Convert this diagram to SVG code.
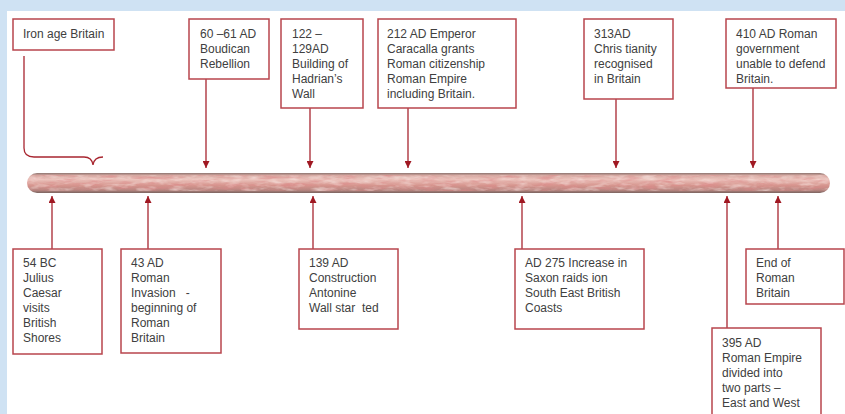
<svg xmlns="http://www.w3.org/2000/svg" width="845" height="414" viewBox="0 0 845 414">
<defs>
<style>
.box{fill:#fff;stroke:#b8454d;stroke-width:1.5}
.t{font-family:"Liberation Sans",Arial,sans-serif;font-size:12px;fill:#404040;white-space:pre}
.c{fill:none;stroke:#a82630;stroke-width:1.3}
</style>
<marker id="ah" viewBox="0 0 8 8" refX="8" refY="4" markerWidth="7" markerHeight="7" markerUnits="userSpaceOnUse" orient="auto">
<path d="M0 0L8 4L0 8z" fill="#a01822"/>
</marker>
<linearGradient id="bar" x1="0" y1="0" x2="0" y2="1">
<stop offset="0" stop-color="#8c7470"/>
<stop offset="0.12" stop-color="#d6a8a1"/>
<stop offset="0.32" stop-color="#ebc3bc"/>
<stop offset="0.62" stop-color="#d6958e"/>
<stop offset="0.86" stop-color="#b88580"/>
<stop offset="1" stop-color="#7a6460"/>
</linearGradient>
<filter id="texR" x="0" y="0" width="1" height="1">
<feTurbulence type="fractalNoise" baseFrequency="0.05 0.3" numOctaves="3" seed="4"/>
<feColorMatrix type="matrix" values="0 0 0 0 0.72  0 0 0 0 0.25  0 0 0 0 0.25  0 0 0 2.2 -1.0"/>
<feComposite in2="SourceGraphic" operator="in"/>
</filter>
<filter id="texL" x="0" y="0" width="1" height="1">
<feTurbulence type="fractalNoise" baseFrequency="0.07 0.25" numOctaves="3" seed="11"/>
<feColorMatrix type="matrix" values="0 0 0 0 0.97  0 0 0 0 0.85  0 0 0 0 0.82  0 0 0 2.2 -1.0"/>
<feComposite in2="SourceGraphic" operator="in"/>
</filter>
</defs>
<rect width="845" height="414" fill="#cfe2f3"/>
<rect x="7" y="11" width="838" height="403" fill="#fff"/>
<g id="timeline">
<rect x="27" y="173" width="803" height="20" rx="10" fill="url(#bar)"/>
<rect x="27" y="175" width="803" height="16" rx="8" fill="#fff" filter="url(#texR)" opacity="0.75"/>
<rect x="27" y="175" width="803" height="16" rx="8" fill="#fff" filter="url(#texL)" opacity="0.6"/>
</g>
<g id="connectors">
<path class="c" d="M24 56V148Q24 157 34 157H84Q92 157 93 165Q94 157 103 157"/>
<line class="c" x1="206" y1="79" x2="206" y2="168" marker-end="url(#ah)"/>
<line class="c" x1="310" y1="108" x2="310" y2="168" marker-end="url(#ah)"/>
<line class="c" x1="408" y1="108" x2="408" y2="168" marker-end="url(#ah)"/>
<line class="c" x1="616" y1="99" x2="616" y2="168" marker-end="url(#ah)"/>
<line class="c" x1="753" y1="88" x2="753" y2="168" marker-end="url(#ah)"/>
<line class="c" x1="52" y1="249" x2="52" y2="196" marker-end="url(#ah)"/>
<line class="c" x1="148" y1="249" x2="148" y2="196" marker-end="url(#ah)"/>
<line class="c" x1="313" y1="249" x2="313" y2="196" marker-end="url(#ah)"/>
<line class="c" x1="522" y1="249" x2="522" y2="196" marker-end="url(#ah)"/>
<line class="c" x1="778" y1="249" x2="778" y2="196" marker-end="url(#ah)"/>
<line class="c" x1="727" y1="328" x2="727" y2="196" marker-end="url(#ah)"/>
</g>
<g id="iron-age">
<rect class="box" x="13" y="19" width="101" height="31"/>
<text class="t" x="23" y="38">Iron age Britain</text>
</g>
<g id="boudican">
<rect class="box" x="189" y="19" width="80" height="60"/>
<text class="t"><tspan x="200" y="38">60 –61 AD</tspan><tspan x="200" y="53">Boudican</tspan><tspan x="200" y="68">Rebellion</tspan></text>
</g>
<g id="hadrian">
<rect class="box" x="281" y="19" width="82" height="89"/>
<text class="t"><tspan x="292" y="38">122 –</tspan><tspan x="292" y="53">129AD</tspan><tspan x="292" y="68">Building of</tspan><tspan x="292" y="83">Hadrian’s</tspan><tspan x="292" y="98">Wall</tspan></text>
</g>
<g id="caracalla">
<rect class="box" x="378" y="19" width="138" height="89"/>
<text class="t"><tspan x="387" y="38">212 AD Emperor</tspan><tspan x="387" y="53">Caracalla grants</tspan><tspan x="387" y="68">Roman citizenship</tspan><tspan x="387" y="83">Roman Empire</tspan><tspan x="387" y="98">including Britain.</tspan></text>
</g>
<g id="christianity">
<rect class="box" x="584" y="19" width="89" height="80"/>
<text class="t"><tspan x="594" y="38">313AD</tspan><tspan x="594" y="53">Chris tianity</tspan><tspan x="594" y="68">recognised</tspan><tspan x="594" y="83">in Britain</tspan></text>
</g>
<g id="ad410">
<rect class="box" x="726" y="19" width="110" height="69"/>
<text class="t"><tspan x="736" y="38">410 AD Roman</tspan><tspan x="736" y="53">government</tspan><tspan x="736" y="68">unable to defend</tspan><tspan x="736" y="83">Britain.</tspan></text>
</g>
<g id="caesar">
<rect class="box" x="13" y="249" width="89" height="105"/>
<text class="t"><tspan x="23" y="267">54 BC</tspan><tspan x="23" y="282">Julius</tspan><tspan x="23" y="297">Caesar</tspan><tspan x="23" y="312">visits</tspan><tspan x="23" y="327">British</tspan><tspan x="23" y="342">Shores</tspan></text>
</g>
<g id="invasion">
<rect class="box" x="121" y="249" width="100" height="104"/>
<text class="t"><tspan x="131" y="267">43 AD</tspan><tspan x="131" y="282">Roman</tspan><tspan x="131" y="297">Invasion   -</tspan><tspan x="131" y="312">beginning of</tspan><tspan x="131" y="327">Roman</tspan><tspan x="131" y="342">Britain</tspan></text>
</g>
<g id="antonine">
<rect class="box" x="299" y="249" width="99" height="80"/>
<text class="t"><tspan x="309" y="267">139 AD</tspan><tspan x="309" y="282">Construction</tspan><tspan x="309" y="297">Antonine</tspan><tspan x="309" y="312">Wall star  ted</tspan></text>
</g>
<g id="saxon">
<rect class="box" x="515" y="249" width="129" height="80"/>
<text class="t"><tspan x="525" y="267">AD 275 Increase in</tspan><tspan x="525" y="282">Saxon raids ion</tspan><tspan x="525" y="297">South East British</tspan><tspan x="525" y="312">Coasts</tspan></text>
</g>
<g id="end">
<rect class="box" x="746" y="249" width="98" height="55"/>
<text class="t"><tspan x="756" y="267">End of</tspan><tspan x="756" y="282">Roman</tspan><tspan x="756" y="297">Britain</tspan></text>
</g>
<g id="divided">
<rect class="box" x="712" y="328" width="109" height="92"/>
<text class="t"><tspan x="722" y="347">395 AD</tspan><tspan x="722" y="362">Roman Empire</tspan><tspan x="722" y="377">divided into</tspan><tspan x="722" y="392">two parts –</tspan><tspan x="722" y="407">East and West</tspan></text>
</g>
</svg>
